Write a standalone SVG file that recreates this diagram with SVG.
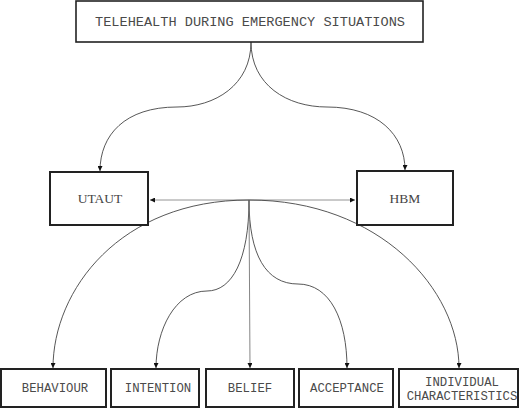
<svg xmlns="http://www.w3.org/2000/svg" width="520" height="408" viewBox="0 0 520 408">
<defs>
<style>
.box{fill:#fff;stroke:#222;stroke-width:2}
.mono{font-family:"Liberation Mono","Courier New",monospace;fill:#4a4a4a;text-anchor:middle}
.serif{font-family:"Liberation Serif","Times New Roman",serif;fill:#444;text-anchor:middle;font-size:13.5px}
.c{fill:none;stroke:#444;stroke-width:0.9}
</style>
<marker id="ah" viewBox="0 0 10 10" refX="10" refY="5" markerWidth="5" markerHeight="5" orient="auto-start-reverse" markerUnits="userSpaceOnUse">
<path d="M0,0 L10,5 L0,10 z" fill="#111"/>
</marker>
</defs>
<rect width="520" height="408" fill="#fff"/>
<g id="connectors">
<path class="c" d="M251,42 C251,85 215,107 177,107 C125,107 100,135 100,171" marker-end="url(#ah)"/>
<path class="c" d="M251,42 C251,85 287,107 327,107 C378,107 405,135 405,170" marker-end="url(#ah)"/>
<path class="c" style="stroke:#888" d="M150,200 L355,200" marker-start="url(#ah)" marker-end="url(#ah)"/>
<path class="c" d="M249,200 C120,200 53,290 53,368" marker-end="url(#ah)"/>
<path class="c" d="M249,200 C380,200 459,290 459,368" marker-end="url(#ah)"/>
<path class="c" d="M249,200 C249,260 232,291 207,291 C175,291 156,330 156,368" marker-end="url(#ah)"/>
<path class="c" d="M249,200 C249,255 266,284 298,284 C330,284 347,320 347,368" marker-end="url(#ah)"/>
<path class="c" style="stroke:#777" d="M249,200 L250,368" marker-end="url(#ah)"/>
</g>
<g id="top">
<rect class="box" x="76" y="1" width="347" height="41" style="stroke-width:1.6"/>
<text class="mono" x="250" y="25.5" font-size="13.6">TELEHEALTH DURING EMERGENCY SITUATIONS</text>
</g>
<g id="utaut">
<rect class="box" x="50" y="172" width="98" height="53"/>
<text class="serif" x="100" y="203">UTAUT</text>
</g>
<g id="hbm">
<rect class="box" x="357" y="171" width="96" height="54"/>
<text class="serif" x="405" y="203">HBM</text>
</g>
<g id="behaviour">
<rect class="box" x="1" y="369" width="105" height="38"/>
<text class="mono" x="55" y="392" font-size="12.3">BEHAVIOUR</text>
</g>
<g id="intention">
<rect class="box" x="111" y="369" width="88" height="38"/>
<text class="mono" x="158" y="392" font-size="12.3">INTENTION</text>
</g>
<g id="belief">
<rect class="box" x="206" y="369" width="88" height="38"/>
<text class="mono" x="250" y="392" font-size="12.3">BELIEF</text>
</g>
<g id="acceptance">
<rect class="box" x="299" y="369" width="94" height="38"/>
<text class="mono" x="347" y="392" font-size="12.3">ACCEPTANCE</text>
</g>
<g id="individual">
<rect class="box" x="399" y="369" width="119" height="38"/>
<text class="mono" x="462" y="386" font-size="12.3">INDIVIDUAL</text>
<text class="mono" x="462" y="400" font-size="12.3">CHARACTERISTICS</text>
</g>
</svg>
